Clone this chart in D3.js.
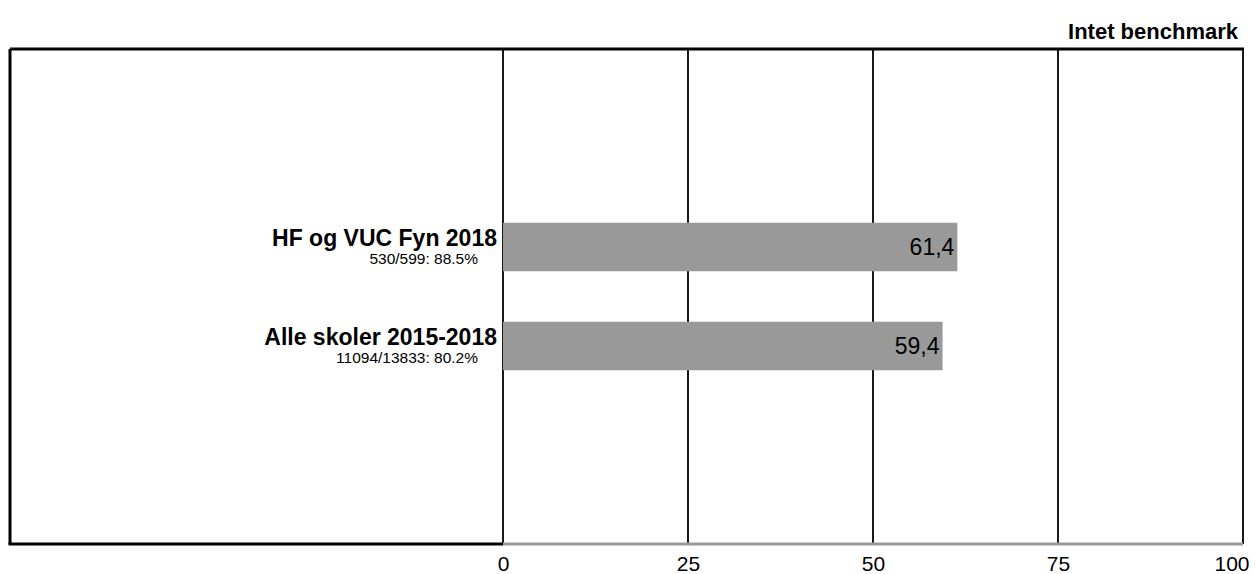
<!DOCTYPE html>
<html>
<head>
<meta charset="utf-8">
<script src="https://cdn.jsdelivr.net/npm/d3@7"></script>
<style>
  html, body { margin: 0; padding: 0; background: #fff; }
  svg { display: block; font-family: "Liberation Sans", Arial, sans-serif; }
</style>
</head>
<body>
<svg id="chart" width="1256" height="574"></svg>
<script>
const title = "Intet benchmark";
const categories = ["HF og VUC Fyn 2018", "Alle skoler 2015-2018"];
const subLabels = ["530/599: 88.5%", "11094/13833: 80.2%"];
const values = [61.4, 59.4];
const valueLabels = ["61,4", "59,4"];
const tickValues = [0, 25, 50, 75, 100];
const tickLabels = ["0", "25", "50", "75", "100"];

const W = 1256, H = 574;
const box = { left: 10, top: 49, right: 1243, bottom: 544 };
const plotLeft = 503;

const svg = d3.select("#chart");

const x = d3.scaleLinear().domain([0, 100]).range([plotLeft, box.right]);
const y = d3.scalePoint().domain(categories).range([box.top, box.bottom]).padding(2);
const barH = y.step() * 0.49;

// title
svg.append("text")
  .attr("x", 1238).attr("y", 39)
  .attr("text-anchor", "end")
  .attr("font-size", 22).attr("font-weight", "bold")
  .text(title);

// frame: top, left
svg.append("line").attr("x1", box.left).attr("x2", box.right + 1).attr("y1", box.top).attr("y2", box.top)
  .attr("stroke", "#000").attr("stroke-width", 3);
svg.append("line").attr("x1", box.left).attr("x2", box.left).attr("y1", box.top).attr("y2", box.bottom)
  .attr("stroke", "#000").attr("stroke-width", 3);

// grid lines
svg.append("g").selectAll("line").data(tickValues).join("line")
  .attr("x1", d => x(d)).attr("x2", d => x(d))
  .attr("y1", box.top).attr("y2", box.bottom)
  .attr("stroke", "#000").attr("stroke-width", 1.8);

// bars
svg.append("g").selectAll("rect").data(values).join("rect")
  .attr("x", x(0))
  .attr("y", (d, i) => y(categories[i]) - barH / 2)
  .attr("width", d => x(d) - x(0))
  .attr("height", barH)
  .attr("fill", "#999999");

// value labels
svg.append("g").selectAll("text").data(values).join("text")
  .attr("x", d => x(d) - 3)
  .attr("y", (d, i) => y(categories[i]) + 8)
  .attr("text-anchor", "end")
  .attr("font-size", 23)
  .attr("fill", "#000")
  .text((d, i) => valueLabels[i]);

// category labels
svg.append("g").selectAll("text").data(categories).join("text")
  .attr("x", plotLeft - 6)
  .attr("y", d => y(d) - 1)
  .attr("text-anchor", "end")
  .attr("font-size", 23).attr("font-weight", "bold")
  .text(d => d);

svg.append("g").selectAll("text").data(subLabels).join("text")
  .attr("x", plotLeft - 25)
  .attr("y", (d, i) => y(categories[i]) + 17)
  .attr("text-anchor", "end")
  .attr("font-size", 15.5)
  .text(d => d);

// bottom axis line: black under label area, grey under plot
svg.append("line").attr("x1", box.left - 1.5).attr("x2", plotLeft).attr("y1", box.bottom).attr("y2", box.bottom)
  .attr("stroke", "#000").attr("stroke-width", 3);
svg.append("line").attr("x1", plotLeft).attr("x2", box.right).attr("y1", box.bottom).attr("y2", box.bottom)
  .attr("stroke", "#999999").attr("stroke-width", 3);

// tick labels
const axis = d3.axisBottom(x).tickValues(tickValues).tickSize(0).tickPadding(0)
  .tickFormat((d, i) => tickLabels[i]);
const ag = svg.append("g").attr("transform", `translate(0,${box.bottom + 27})`).call(axis);
ag.select(".domain").remove();
ag.selectAll("text")
  .attr("font-size", 21)
  .attr("font-family", "Liberation Sans, Arial, sans-serif")
  .attr("fill", "#000")
  .attr("dy", 0);
ag.selectAll(".tick").filter(d => d === 100).select("text")
  .attr("text-anchor", "end").attr("x", 6);
</script>
</body>
</html>
